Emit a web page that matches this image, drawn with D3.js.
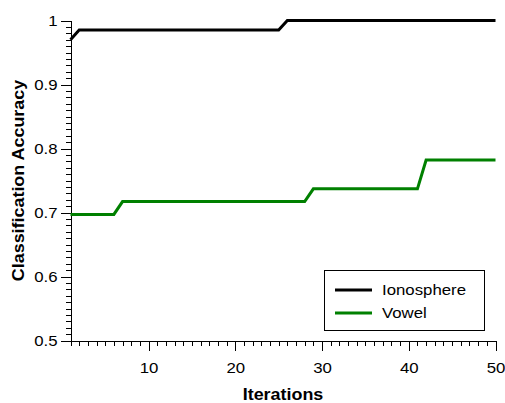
<!DOCTYPE html>
<html>
<head>
<meta charset="utf-8">
<script src="https://cdn.jsdelivr.net/npm/d3@7"></script>
<style>
  html, body { margin: 0; padding: 0; background: #fff; }
  svg { display: block; font-family: "Liberation Sans", Arial, Helvetica, sans-serif; }
</style>
</head>
<body>
<svg id="chart" width="505" height="403"></svg>
<script>
// Classification accuracy per iteration for two datasets
const iterations = [
  1, 2, 3, 4, 5, 6, 7, 8, 9, 10,
  11, 12, 13, 14, 15, 16, 17, 18, 19, 20,
  21, 22, 23, 24, 25, 26, 27, 28, 29, 30,
  31, 32, 33, 34, 35, 36, 37, 38, 39, 40,
  41, 42, 43, 44, 45, 46, 47, 48, 49, 50
];
const ionosphere = [
  0.970, 0.985, 0.985, 0.985, 0.985, 0.985, 0.985, 0.985, 0.985, 0.985,
  0.985, 0.985, 0.985, 0.985, 0.985, 0.985, 0.985, 0.985, 0.985, 0.985,
  0.985, 0.985, 0.985, 0.985, 0.985, 1.000, 1.000, 1.000, 1.000, 1.000,
  1.000, 1.000, 1.000, 1.000, 1.000, 1.000, 1.000, 1.000, 1.000, 1.000,
  1.000, 1.000, 1.000, 1.000, 1.000, 1.000, 1.000, 1.000, 1.000, 1.000
];
const vowel = [
  0.697, 0.697, 0.697, 0.697, 0.697, 0.697, 0.717, 0.717, 0.717, 0.717,
  0.717, 0.717, 0.717, 0.717, 0.717, 0.717, 0.717, 0.717, 0.717, 0.717,
  0.717, 0.717, 0.717, 0.717, 0.717, 0.717, 0.717, 0.717, 0.737, 0.737,
  0.737, 0.737, 0.737, 0.737, 0.737, 0.737, 0.737, 0.737, 0.737, 0.737,
  0.737, 0.782, 0.782, 0.782, 0.782, 0.782, 0.782, 0.782, 0.782, 0.782
];
const seriesNames = ["Ionosphere", "Vowel"];
const seriesColors = ["#000000", "#008000"];
const xMajorTicks = [10, 20, 30, 40, 50];
const yMajorTicks = [0.5, 0.6, 0.7, 0.8, 0.9, 1];
const yTickLabels = ["0.5", "0.6", "0.7", "0.8", "0.9", "1"];
const xLabel = "Iterations";
const yLabel = "Classification Accuracy";

const W = 505, H = 403;
const margin = { left: 70.5, top: 20.5, right: 9.5, bottom: 62.5 };
const stretch = 1.12; // horizontal widening of the glyphs

const svg = d3.select("#chart");

const x = d3.scaleLinear().domain([1, 50]).range([margin.left, W - margin.right]);
const y = d3.scaleLinear().domain([0.5, 1]).range([H - margin.bottom, margin.top]);

const xMinor = d3.range(1, 51);
const yMinor = d3.range(50, 101).map(v => v / 100);

function styleAxis(g) {
  g.select(".domain").attr("stroke", "#000").attr("stroke-width", 1);
  g.selectAll(".tick line").attr("stroke", "#000").attr("stroke-width", 1);
  g.attr("shape-rendering", "crispEdges");
}

// x axis: minor then major ticks
svg.append("g")
  .attr("transform", `translate(0,${y(0.5)})`)
  .call(d3.axisBottom(x).tickValues(xMinor).tickSize(5).tickFormat(""))
  .call(styleAxis);

const gx = svg.append("g")
  .attr("transform", `translate(0,${y(0.5)})`)
  .call(d3.axisBottom(x).tickValues(xMajorTicks).tickSize(10).tickSizeOuter(0).tickPadding(12))
  .call(styleAxis);
gx.select(".domain").remove();
gx.selectAll(".tick text")
  .attr("font-size", 15)
  .attr("fill", "#000")
  .attr("font-family", "Liberation Sans, Arial, sans-serif")
  .attr("transform", `scale(${stretch},1)`);

// y axis: minor then major ticks
svg.append("g")
  .attr("transform", `translate(${x(1)},0)`)
  .call(d3.axisLeft(y).tickValues(yMinor).tickSize(5).tickFormat(""))
  .call(styleAxis);

const gy = svg.append("g")
  .attr("transform", `translate(${x(1)},0)`)
  .call(d3.axisLeft(y).tickValues(yMajorTicks).tickSize(10).tickSizeOuter(0)
    .tickFormat((d, i) => yTickLabels[i]))
  .call(styleAxis);
gy.select(".domain").remove();
gy.selectAll(".tick text")
  .attr("font-size", 15)
  .attr("fill", "#000")
  .attr("font-family", "Liberation Sans, Arial, sans-serif")
  .attr("x", -13 / stretch)
  .attr("transform", `scale(${stretch},1)`);

// lines
const rows = [ionosphere, vowel];
const line = d3.line()
  .x((d, i) => x(iterations[i]))
  .y(d => y(d));

rows.forEach((vals, k) => {
  svg.append("path")
    .datum(vals)
    .attr("fill", "none")
    .attr("stroke", seriesColors[k])
    .attr("stroke-width", 3)
    .attr("stroke-linejoin", "miter")
    .attr("d", line);
});

// axis titles
svg.append("text")
  .attr("transform", `translate(${(x(1) + x(50)) / 2},400) scale(${stretch},1)`)
  .attr("text-anchor", "middle")
  .attr("font-size", 16)
  .attr("font-weight", "bold")
  .attr("fill", "#000")
  .text(xLabel);

svg.append("text")
  .attr("transform", `translate(24,${(y(0.5) + y(1)) / 2}) rotate(-90) scale(${stretch},1)`)
  .attr("text-anchor", "middle")
  .attr("font-size", 16)
  .attr("font-weight", "bold")
  .attr("fill", "#000")
  .text(yLabel);

// legend
const legend = svg.append("g");
legend.append("rect")
  .attr("x", 324.5).attr("y", 270.5)
  .attr("width", 160).attr("height", 60)
  .attr("fill", "#fff")
  .attr("stroke", "#000")
  .attr("stroke-width", 1)
  .attr("shape-rendering", "crispEdges");

seriesNames.forEach((name, k) => {
  const cy = 290 + k * 23;
  legend.append("line")
    .attr("x1", 335).attr("x2", 372)
    .attr("y1", cy).attr("y2", cy)
    .attr("stroke", seriesColors[k])
    .attr("stroke-width", 3);
  legend.append("text")
    .attr("transform", `translate(382,${cy}) scale(${stretch},1)`)
    .attr("dy", "0.35em")
    .attr("font-size", 15)
    .attr("fill", "#000")
    .text(name);
});
</script>
</body>
</html>
